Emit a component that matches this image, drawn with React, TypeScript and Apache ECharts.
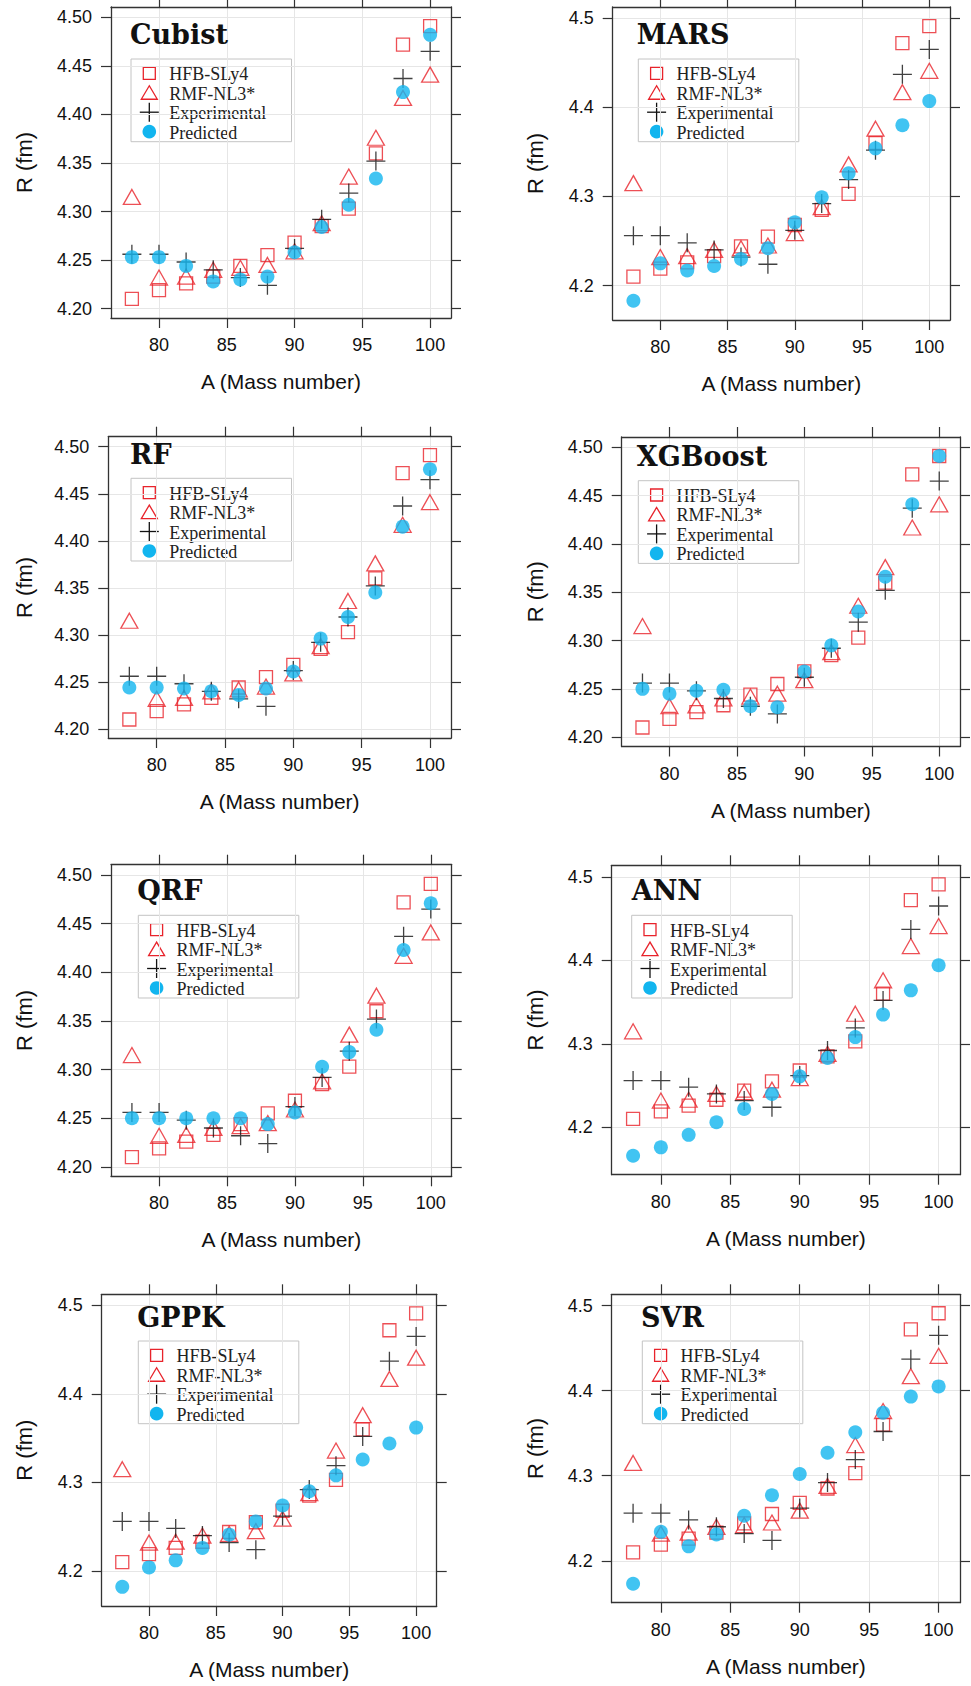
import { useEffect, useRef } from 'react';
import * as echarts from 'echarts';

// ---------- data ----------
const massNumbers = [78, 80, 82, 84, 86, 88, 90, 92, 94, 96, 98, 100];
const hfbSLy4 = [4.210, 4.219, 4.226, 4.233, 4.244, 4.255, 4.268, 4.285, 4.303, 4.360, 4.472, 4.491];
const rmfNL3 = [4.315, 4.232, 4.233, 4.240, 4.242, 4.245, 4.259, 4.288, 4.336, 4.376, 4.417, 4.441];
const experimental = [4.256, 4.256, 4.248, 4.240, 4.232, 4.224, 4.262, 4.292, 4.319, 4.352, 4.437, 4.465];

const predCubist = [4.253, 4.253, 4.244, 4.228, 4.230, 4.233, 4.258, 4.284, 4.307, 4.334, 4.423, 4.482];
const predMARS = [4.183, 4.225, 4.217, 4.222, 4.230, 4.242, 4.271, 4.299, 4.326, 4.354, 4.380, 4.407];
const predRF = [4.244, 4.244, 4.243, 4.240, 4.236, 4.243, 4.261, 4.296, 4.319, 4.345, 4.415, 4.476];
const predXGBoost = [4.250, 4.245, 4.248, 4.249, 4.232, 4.231, 4.268, 4.295, 4.330, 4.366, 4.441, 4.491];
const predQRF = [4.250, 4.250, 4.250, 4.250, 4.250, 4.244, 4.256, 4.303, 4.318, 4.341, 4.423, 4.471];
const predANN = [4.166, 4.176, 4.191, 4.206, 4.222, 4.240, 4.261, 4.283, 4.308, 4.335, 4.364, 4.394];
const predGPPK = [4.182, 4.204, 4.212, 4.226, 4.241, 4.256, 4.274, 4.290, 4.308, 4.326, 4.344, 4.362];
const predSVR = [4.173, 4.234, 4.217, 4.231, 4.253, 4.277, 4.302, 4.327, 4.351, 4.374, 4.393, 4.405];

const xTicks = [80, 85, 90, 95, 100];
const yTicksFine = [4.20, 4.25, 4.30, 4.35, 4.40, 4.45, 4.50];
const yTicksCoarse = [4.2, 4.3, 4.4, 4.5];
const legendLabels = ['HFB-SLy4', 'RMF-NL3*', 'Experimental', 'Predicted'];
const xAxisTitle = 'A (Mass number)';
const yAxisTitle = 'R (fm)';

// ---------- layout ----------
type Panel = {
  name: string;
  pred: number[];
  fine: boolean;
  box: [number, number, number, number]; // left, top, width, height
  title: [number, number];
  legend: [number, number];
  yGap: number;
};

const panels: Panel[] = [
  { name: 'Cubist', pred: predCubist, fine: true, box: [111, 7, 340, 311], title: [130, 34.5], legend: [131, 59], yGap: 76 },
  { name: 'MARS', pred: predMARS, fine: false, box: [612.7, 7, 337.3, 313], title: [636.7, 34.5], legend: [638.3, 59], yGap: 66.7 },
  { name: 'RF', pred: predRF, fine: true, box: [108.3, 436.7, 342.7, 301.3], title: [130, 454.3], legend: [131, 478.3], yGap: 73.3 },
  { name: 'XGBoost', pred: predXGBoost, fine: true, box: [621.7, 437, 338.3, 309.5], title: [636.7, 456.3], legend: [638.3, 480.7], yGap: 75.7 },
  { name: 'QRF', pred: predQRF, fine: true, box: [111, 864.7, 340.7, 311.6], title: [137.3, 890.9], legend: [138.3, 915.3], yGap: 76 },
  { name: 'ANN', pred: predANN, fine: false, box: [611.7, 865.3, 348.3, 309.4], title: [631.7, 890.9], legend: [631.7, 915.3], yGap: 65.7 },
  { name: 'GPPK', pred: predGPPK, fine: false, box: [101.7, 1294.3, 335, 311.7], title: [137.3, 1317.7], legend: [138.3, 1341], yGap: 66.7 },
  { name: 'SVR', pred: predSVR, fine: false, box: [611.7, 1294.3, 348.3, 308.4], title: [641, 1317.7], legend: [642.3, 1341], yGap: 65.7 },
];

const RED = '#e8232b';
const BLUE = '#12b5ef';
const BOX = '#333333';
const GRIDLINE = '#e6e6e6';
const SANS = 'Liberation Sans, Arial, sans-serif';
const SERIF = 'Liberation Serif, Times New Roman, serif';

const PAD = 0.07;

function padRange(vals: number[]): [number, number] {
  const lo = Math.min(...vals);
  const hi = Math.max(...vals);
  const d = (hi - lo) * PAD;
  return [lo - d, hi + d];
}

function buildOption() {
  const grid: any[] = [];
  const xAxis: any[] = [];
  const yAxis: any[] = [];
  const series: any[] = [];
  const graphic: any[] = [];
  const [xMin, xMax] = padRange(massNumbers);
  const lineStyle = { color: BOX, width: 1.3 };
  const tickStyle = { color: BOX, width: 1.2 };

  panels.forEach((p, i) => {
    const [left, top, width, height] = p.box;
    grid.push({ left, top, width, height, containLabel: false });
    const [yMin, yMax] = padRange([...hfbSLy4, ...rmfNL3, ...experimental, ...p.pred]);
    const yTicks = p.fine ? yTicksFine : yTicksCoarse;
    const fmt = (v: number) => (p.fine ? v.toFixed(2) : v.toFixed(1));

    xAxis.push({
      type: 'value', gridIndex: i, position: 'bottom', min: xMin, max: xMax,
      axisLine: { show: true, onZero: false, lineStyle },
      axisTick: { show: true, inside: false, length: 10, customValues: xTicks, lineStyle: tickStyle },
      axisLabel: { show: true, customValues: xTicks, margin: 18, fontSize: 18, color: '#111', fontFamily: SANS },
      splitLine: { show: true, lineStyle: { color: GRIDLINE, width: 1 } },
      name: xAxisTitle, nameLocation: 'middle', nameGap: 53,
      nameTextStyle: { fontSize: 21, color: '#111', fontFamily: SANS },
    });
    xAxis.push({
      type: 'value', gridIndex: i, position: 'top', min: xMin, max: xMax,
      axisLine: { show: true, onZero: false, lineStyle },
      axisTick: { show: true, inside: false, length: 10, customValues: xTicks, lineStyle: tickStyle },
      axisLabel: { show: false },
      splitLine: { show: false },
    });
    yAxis.push({
      type: 'value', gridIndex: i, position: 'left', min: yMin, max: yMax,
      axisLine: { show: true, onZero: false, lineStyle },
      axisTick: { show: true, inside: false, length: 10, customValues: yTicks, lineStyle: tickStyle },
      axisLabel: { show: true, customValues: yTicks, formatter: fmt, margin: 19, fontSize: 18, color: '#111', fontFamily: SANS },
      splitLine: { show: true, lineStyle: { color: GRIDLINE, width: 1 } },
      name: yAxisTitle, nameLocation: 'middle', nameGap: p.yGap, nameRotate: 90,
      nameTextStyle: { fontSize: 22, color: '#111', fontFamily: SANS },
    });
    yAxis.push({
      type: 'value', gridIndex: i, position: 'right', min: yMin, max: yMax,
      axisLine: { show: true, onZero: false, lineStyle },
      axisTick: { show: true, inside: false, length: 10, customValues: yTicks, lineStyle: tickStyle },
      axisLabel: { show: false },
      splitLine: { show: false },
    });

    const xi = 2 * i;
    const mk = (vals: number[]) => massNumbers.map((x, j) => [x, vals[j]]);
    series.push({
      type: 'scatter', name: legendLabels[0], xAxisIndex: xi, yAxisIndex: xi,
      data: mk(hfbSLy4), symbol: 'rect', symbolSize: 13,
      itemStyle: { color: 'rgba(0,0,0,0)', borderColor: RED, borderWidth: 1.3 },
    });
    series.push({
      type: 'scatter', name: legendLabels[1], xAxisIndex: xi, yAxisIndex: xi,
      data: mk(rmfNL3), symbol: 'triangle', symbolSize: [17, 15],
      itemStyle: { color: 'rgba(0,0,0,0)', borderColor: RED, borderWidth: 1.3 },
    });
    series.push({
      type: 'scatter', name: legendLabels[2], xAxisIndex: xi, yAxisIndex: xi,
      data: mk(experimental), symbol: 'path://M10,0L10,20M0,10L20,10', symbolSize: 19,
      itemStyle: { color: 'rgba(0,0,0,0)', borderColor: '#111', borderWidth: 1.3 },
    });
    series.push({
      type: 'scatter', name: legendLabels[3], xAxisIndex: xi, yAxisIndex: xi,
      data: mk(p.pred), symbol: 'circle', symbolSize: 14,
      itemStyle: { color: BLUE },
    });

    // panel title
    graphic.push({
      type: 'text', x: p.title[0], y: p.title[1], z: 100,
      style: { text: p.name, fill: '#111', fontSize: 27, fontWeight: 'bold', fontFamily: 'DejaVu Serif, serif', align: 'left', verticalAlign: 'middle' },
    });

    // legend box
    const sx = 18.3;
    const row = (k: number) => 14.3 + k * 19.45;
    const children: any[] = [
      { type: 'rect', shape: { x: 0, y: 0, width: 160.5, height: 82.7 }, style: { fill: 'none', stroke: '#c4c4c4', lineWidth: 1 } },
      { type: 'rect', shape: { x: sx - 6, y: row(0) - 6, width: 12, height: 12 }, style: { fill: 'none', stroke: RED, lineWidth: 1.3 } },
      { type: 'polygon', shape: { points: [[sx, row(1) - 7], [sx - 8, row(1) + 6.5], [sx + 8, row(1) + 6.5]] }, style: { fill: 'none', stroke: RED, lineWidth: 1.3 } },
      { type: 'line', shape: { x1: sx - 9.5, y1: row(2), x2: sx + 9.5, y2: row(2) }, style: { stroke: '#111', lineWidth: 1.3 } },
      { type: 'line', shape: { x1: sx, y1: row(2) - 9.5, x2: sx, y2: row(2) + 9.5 }, style: { stroke: '#111', lineWidth: 1.3 } },
      { type: 'circle', shape: { cx: sx, cy: row(3), r: 6.8 }, style: { fill: BLUE } },
    ];
    legendLabels.forEach((t, k) => {
      children.push({
        type: 'text', x: 38.3, y: row(k) + 1,
        style: { text: t, fill: '#222', fontSize: 18, fontFamily: SERIF, align: 'left', verticalAlign: 'middle' },
      });
    });
    graphic.push({ type: 'group', x: p.legend[0], y: p.legend[1], z: 90, children });
  });

  return {
    animation: false,
    backgroundColor: '#ffffff',
    grid,
    xAxis,
    yAxis,
    series,
    graphic,
  };
}

export default function App() {
  const ref = useRef<HTMLDivElement>(null);
  useEffect(() => {
    if (!ref.current) return;
    const chart = echarts.init(ref.current, null, { renderer: 'svg' });
    chart.setOption(buildOption() as any);
    return () => chart.dispose();
  }, []);
  return (
    <div
      ref={ref}
      style={{ position: 'absolute', left: 0, top: 0, width: 971, height: 1686, background: '#fff' }}
    />
  );
}
